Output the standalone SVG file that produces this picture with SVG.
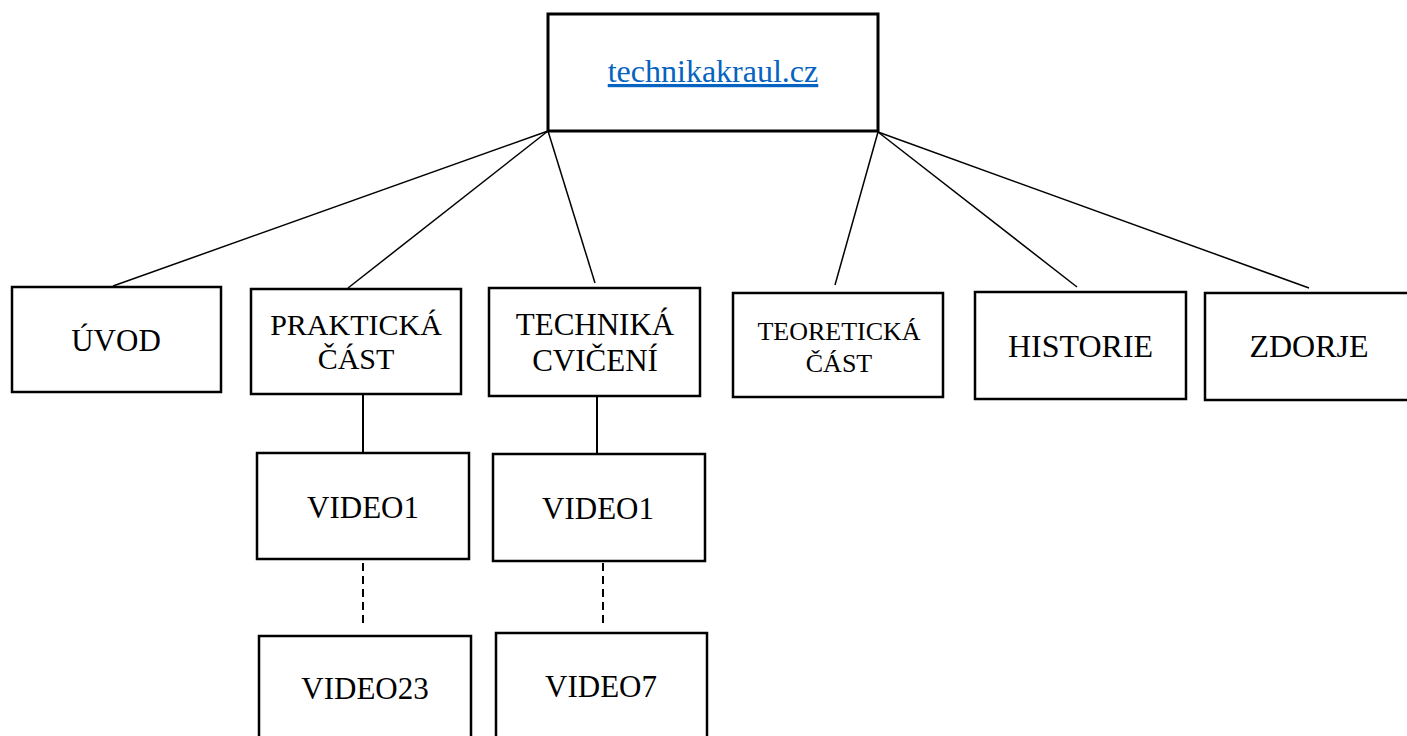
<svg xmlns="http://www.w3.org/2000/svg" width="1407" height="736" viewBox="0 0 1407 736">
<style>
.box{fill:#fff;stroke:#000;stroke-width:2.5}
.top{fill:#fff;stroke:#000;stroke-width:3}
.t{font-family:"Liberation Serif","Times New Roman",serif;fill:#000;text-anchor:middle}
.link{fill:#0563C1;text-decoration:underline}
.c{stroke:#000;stroke-width:1.5;fill:none}
.v{stroke:#000;stroke-width:2;fill:none}
.d{stroke:#000;stroke-width:2;fill:none;stroke-dasharray:8 5}
</style>
<rect width="1407" height="736" fill="#fff"/>
<g id="connectors">
<line class="c" x1="548" y1="131" x2="113" y2="286"/>
<line class="c" x1="548" y1="131" x2="348" y2="288"/>
<line class="c" x1="548" y1="131" x2="595" y2="283"/>
<line class="c" x1="878" y1="132" x2="835" y2="285"/>
<line class="c" x1="878" y1="132" x2="1077" y2="287"/>
<line class="c" x1="878" y1="132" x2="1309" y2="288"/>
<line class="v" x1="363" y1="394" x2="363" y2="453"/>
<line class="v" x1="597" y1="396" x2="597" y2="454"/>
<line class="d" x1="363" y1="563" x2="363" y2="627"/>
<line class="d" x1="603" y1="563" x2="603" y2="626"/>
</g>
<g id="root">
<rect class="top" x="548" y="14" width="330" height="117"/>
<text class="t link" x="713" y="82" font-size="32">technikakraul.cz</text>
</g>
<g id="uvod">
<rect class="box" x="12" y="287" width="209" height="105"/>
<text class="t" x="116" y="351" font-size="31">ÚVOD</text>
</g>
<g id="prakticka">
<rect class="box" x="251" y="289" width="210" height="105"/>
<text class="t" x="356" y="335" font-size="30">PRAKTICKÁ</text>
<text class="t" x="356" y="369" font-size="30">ČÁST</text>
</g>
<g id="technika">
<rect class="box" x="489" y="288" width="211" height="108"/>
<text class="t" x="595" y="335" font-size="31">TECHNIKÁ</text>
<text class="t" x="595" y="371" font-size="31">CVIČENÍ</text>
</g>
<g id="teoreticka">
<rect class="box" x="733" y="293" width="210" height="104"/>
<text class="t" x="839" y="340" font-size="26">TEORETICKÁ</text>
<text class="t" x="839" y="372" font-size="26">ČÁST</text>
</g>
<g id="historie">
<rect class="box" x="975" y="292" width="211" height="107"/>
<text class="t" x="1080.5" y="357" font-size="32">HISTORIE</text>
</g>
<g id="zdroje">
<rect class="box" x="1205" y="293" width="210" height="107"/>
<text class="t" x="1309" y="357" font-size="32">ZDORJE</text>
</g>
<g id="video1a">
<rect class="box" x="257" y="453" width="212" height="106"/>
<text class="t" x="363" y="518" font-size="31">VIDEO1</text>
</g>
<g id="video23">
<rect class="box" x="259" y="636" width="212" height="120"/>
<text class="t" x="365" y="699" font-size="31">VIDEO23</text>
</g>
<g id="video1b">
<rect class="box" x="493" y="454" width="212" height="107"/>
<text class="t" x="598" y="519" font-size="31">VIDEO1</text>
</g>
<g id="video7">
<rect class="box" x="496" y="633" width="211" height="120"/>
<text class="t" x="601" y="697" font-size="31">VIDEO7</text>
</g>
</svg>
